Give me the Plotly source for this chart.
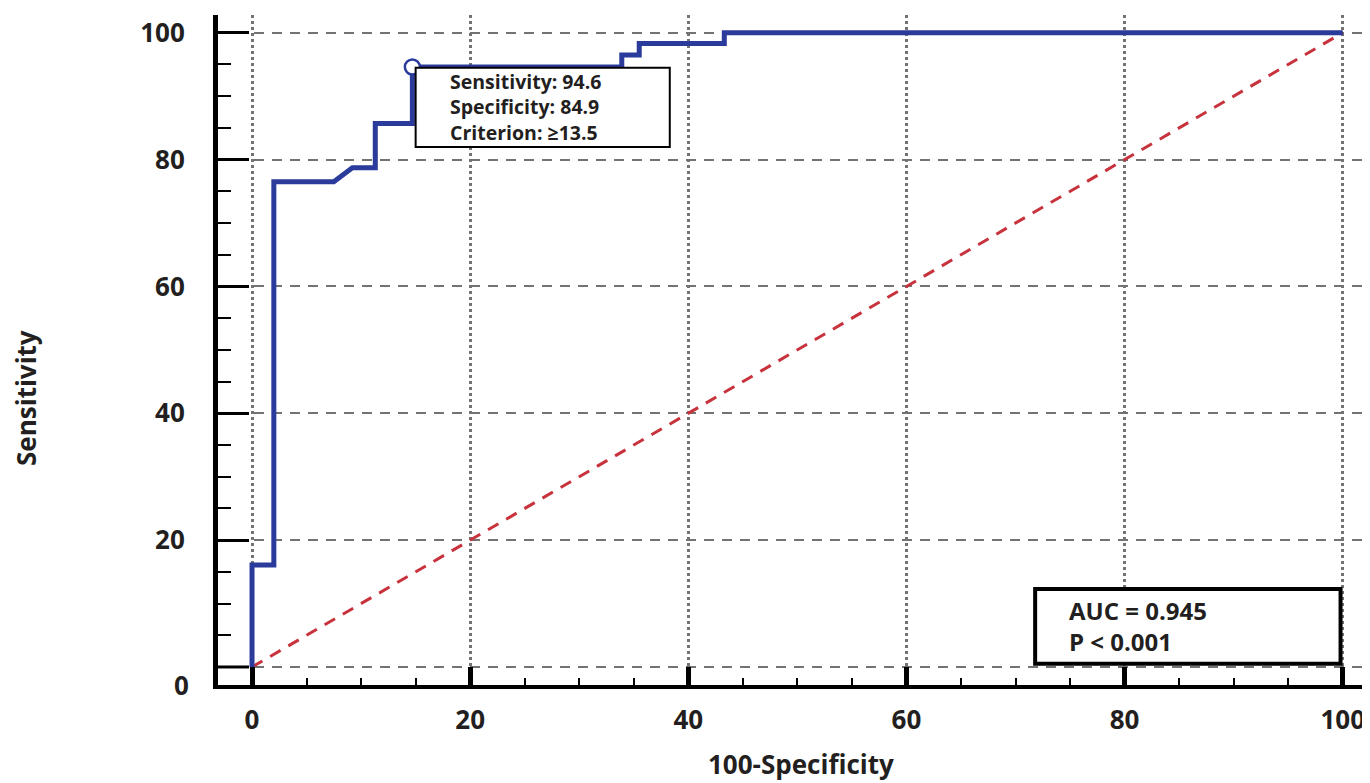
import plotly.graph_objects as go

# ROC curve (100-Specificity vs Sensitivity)
fpr = [0, 0, 2.0, 2.0, 7.5, 9.2, 11.3, 11.3, 14.7, 14.7, 33.9, 33.9, 35.5, 35.5, 43.3, 43.3, 100]
tpr = [0, 16.1, 16.1, 76.5, 76.5, 78.7, 78.7, 85.7, 85.7, 94.6, 94.6, 96.5, 96.5, 98.3, 98.3, 100, 100]
ref_x = [0, 100]
ref_y = [0, 100]
cut_x = [14.7]
cut_y = [94.6]

cut_text = ["Sensitivity: 94.6", "Specificity: 84.9", "Criterion: \u226513.5"]
auc_text = ["AUC = 0.945", "P < 0.001"]
tick_vals = [0, 20, 40, 60, 80, 100]
x_title = "100-Specificity"
y_title = "Sensitivity"

FONT = "Open Sans"
TXT = "#231f20"
BLUE = "#2a3b9c"
RED = "#c8323c"
GRID = "#737373"

# page body has an 8px default margin; compensate so the picture lines up
OFF = 8
W, H = 1370 - OFF, 783 - OFF
L, R, T = 218 - OFF, 0, 15 - OFF
B = H - (685 - OFF)
pw, ph = W - L - R, H - T - B


def px_to_paper(px, py):
    return ((px - OFF) - L) / pw, (H - B - (py - OFF)) / ph


fig = go.Figure()
fig.add_trace(go.Scatter(x=ref_x, y=ref_y, mode="lines",
                         line=dict(color=RED, width=3, dash="12px,9px"),
                         hoverinfo="skip", showlegend=False))
fig.add_trace(go.Scatter(x=fpr, y=tpr, mode="lines",
                         line=dict(color=BLUE, width=5),
                         showlegend=False))
fig.add_trace(go.Scatter(x=cut_x, y=cut_y, mode="markers",
                         marker=dict(symbol="circle", size=15, color="white",
                                     line=dict(color=BLUE, width=2.5)),
                         showlegend=False))

# annotation boxes
fig.add_shape(type="rect", x0=15.0, x1=38.3, y0=82.0, y1=94.5,
              line=dict(color="black", width=2), fillcolor="white", layer="above")
fig.add_annotation(x=18.0, y=88.3, xref="x", yref="y", xanchor="left", yanchor="middle",
                   text="<br>".join(cut_text), showarrow=False, align="left",
                   font=dict(family=FONT, size=19.5, color=TXT, weight="bold"))
fig.add_shape(type="rect", x0=71.8, x1=99.8, y0=0.5, y1=12.3,
              line=dict(color="black", width=4), fillcolor="white", layer="above")
fig.add_annotation(x=74.7, y=6.5, xref="x", yref="y", xanchor="left", yanchor="middle",
                   text="<br>".join(auc_text), showarrow=False, align="left",
                   font=dict(family=FONT, size=24, color=TXT, weight="bold"))

# y tick label "0" sits at the axis line in the original
fig.add_annotation(x=0, y=-2.84, xref="paper", yref="y", xanchor="right", yanchor="middle",
                   xshift=-27, text="0", showarrow=False,
                   font=dict(family=FONT, size=26, color=TXT, weight="bold"))

# axis titles
tx, ty = px_to_paper(801, 764)
fig.add_annotation(x=tx, y=ty, xref="paper", yref="paper", text=x_title, showarrow=False,
                   xanchor="center", yanchor="middle",
                   font=dict(family=FONT, size=26, color=TXT, weight="bold"))
sx, sy = px_to_paper(26, 398)
fig.add_annotation(x=sx, y=sy, xref="paper", yref="paper", text=y_title, showarrow=False,
                   xanchor="center", yanchor="middle", textangle=-90,
                   font=dict(family=FONT, size=26, color=TXT, weight="bold"))

fig.update_layout(
    width=W, height=H,
    margin=dict(l=L, r=R, t=T, b=B),
    plot_bgcolor="white", paper_bgcolor="white",
    font=dict(family=FONT, color=TXT),
)

fig.update_xaxes(
    range=[-3.12, 102.5], tickvals=tick_vals, ticktext=[str(v) for v in tick_vals],
    showline=True, linecolor="black", linewidth=4,
    ticks="inside", ticklen=18, tickwidth=5, tickcolor="black",
    minor=dict(ticks="inside", ticklen=7, tickwidth=2, tickcolor="black", dtick=5, tick0=0, showgrid=False),
    showgrid=True, gridcolor=GRID, gridwidth=2.5, griddash="dot",
    zeroline=False, ticklabelstandoff=9, automargin=False,
    tickfont=dict(family=FONT, size=26, color=TXT, weight="bold"),
)
fig.update_yaxes(
    range=[-2.84, 102.8], tickvals=tick_vals[1:], ticktext=[str(v) for v in tick_vals[1:]],
    showline=True, linecolor="black", linewidth=5,
    ticks="inside", ticklen=31, tickwidth=3, tickcolor="black",
    minor=dict(ticks="inside", ticklen=13, tickwidth=2, tickcolor="black", dtick=5, tick0=0, showgrid=False),
    showgrid=True, gridcolor=GRID, gridwidth=2, griddash="10px,8px",
    zeroline=False, ticklabelstandoff=23, automargin=False,
    tickfont=dict(family=FONT, size=26, color=TXT, weight="bold"),
)
# gridline at y=0 (not labelled as a tick)
fig.add_shape(type="line", xref="paper", x0=0, x1=1, yref="y", y0=0, y1=0,
              line=dict(color=GRID, width=2, dash="10px,8px"), layer="below")
fig.add_shape(type="line", xref="paper", x0=0, x1=31 / pw, yref="y", y0=0, y1=0,
              line=dict(color="black", width=3), layer="above")

fig.write_html("out.html")
